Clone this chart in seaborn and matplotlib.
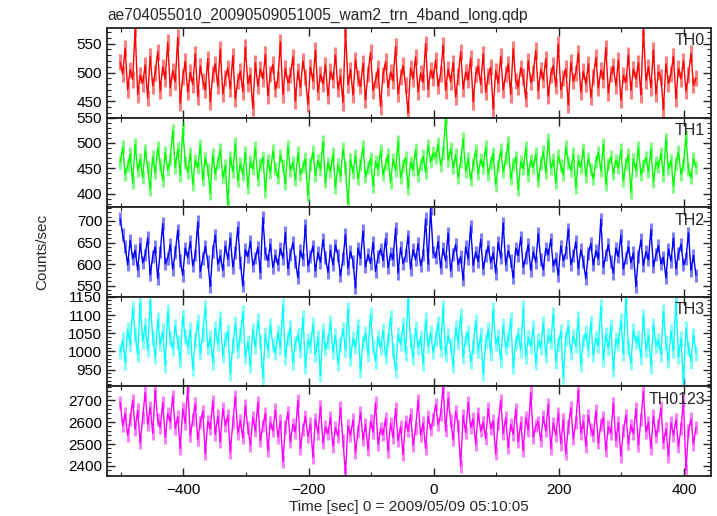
import numpy as np
import pandas as pd
import seaborn as sns
import matplotlib.pyplot as plt
from matplotlib.ticker import MultipleLocator


title = "ae704055010_20090509051005_wam2_trn_4band_long.qdp"
band_names = ["TH0", "TH1", "TH2", "TH3", "TH0123"]
band_colors = ["#ff0000", "#00ff00", "#0000ff", "#00ffff", "#ff00ff"]

# light curve bins: first bin centre and bin width [sec]
t_start = -501
t_bin = 4

th0 = [
    518, 497, 542, 470, 505, 488, 575, 462, 495, 481, 513, 456, 528, 477, 499, 536, 468, 510, 489, 552, 474,
    503, 484, 561, 447, 492, 519, 466, 500, 479, 532, 458, 511, 486, 470, 524, 449, 497, 515, 476, 540, 463,
    491, 508, 472, 529, 455, 486, 502, 467, 544, 481, 496, 438, 517, 476, 506, 489, 531, 460, 498, 514, 471,
    488, 553, 462, 507, 482, 495, 527, 451, 503, 474, 520, 492, 445, 509, 485, 538, 466, 497, 480, 513, 459,
    502, 487, 530, 471, 494, 448, 575, 479, 505, 461, 522, 490, 476, 516, 453, 498, 535, 469, 487, 507, 441,
    496, 519, 474, 501, 486, 545, 463, 492, 512, 478, 430, 508, 489, 527, 467, 499, 483, 550, 471, 504, 490,
    522, 476, 498, 547, 469, 506, 484, 517, 458, 493, 536, 472, 501, 488, 525, 450, 497, 511, 479, 532, 466,
    494, 509, 437, 503, 481, 528, 470, 497, 515, 462, 541, 486, 475, 508, 493, 454, 520, 483, 499, 538, 468,
    505, 487, 524, 459, 496, 512, 476, 549, 470, 490, 507, 444, 518, 485, 499, 533, 466, 502, 480, 515, 457,
    492, 526, 473, 504, 488, 543, 465, 498, 511, 477, 521, 452, 495, 483, 530, 469, 506, 489, 517, 461, 577,
    486, 510, 474, 539, 463, 501, 492, 436, 515, 481, 498, 528, 455, 507, 489, 520, 468, 496, 533, 478, 490,
]
th1 = [
    462, 492, 438, 455, 478, 421, 497, 446, 468, 431, 485, 452, 409, 473, 441, 490, 458, 426, 481, 447, 467,
    525, 452, 488, 436, 529, 461, 442, 479, 418, 466, 451, 495, 427, 470, 448, 401, 476, 439, 462, 486, 432,
    455, 378, 471, 444, 498, 425, 459, 437, 481, 413, 463, 449, 490, 428, 457, 472, 405, 466, 441, 484, 450,
    431, 475, 456, 419, 493, 446, 462, 427, 480, 438, 453, 469, 396, 458, 482, 436, 465, 447, 502, 423, 460,
    444, 478, 413, 457, 435, 488, 452, 380, 467, 441, 474, 429, 458, 492, 433, 451, 470, 415, 463, 448, 485,
    437, 459, 476, 421, 468, 446, 503, 432, 455, 471, 411, 462, 447, 487, 435, 458, 474, 442, 495, 463, 480,
    472, 498, 456, 481, 548, 466, 489, 451, 476, 432, 463, 508, 444, 470, 427, 458, 485, 440, 467, 452, 492,
    438, 461, 479, 417, 455, 486, 443, 469, 500, 429, 457, 472, 408, 463, 449, 490, 436, 466, 452, 478, 425,
    459, 483, 441, 506, 450, 467, 422, 474, 455, 437, 492, 461, 446, 478, 412, 465, 452, 487, 434, 470, 448,
    429, 463, 481, 445, 497, 418, 458, 473, 440, 466, 451, 486, 426, 460, 476, 403, 468, 445, 491, 437, 456,
    471, 443, 488, 424, 462, 453, 479, 436, 507, 449, 466, 415, 460, 482, 438, 458, 512, 447, 431, 469, 452,
]
th2 = [
    705, 668, 640, 598, 655, 612, 632, 586, 647, 603, 621, 661, 575, 618, 640, 567, 628, 694, 601, 612, 645,
    588, 626, 679, 609, 574, 637, 615, 652, 596, 621, 698, 583, 612, 641, 606, 548, 630, 667, 600, 619, 585,
    642, 611, 660, 593, 627, 685, 604, 549, 633, 617, 653, 597, 614, 639, 580, 708, 625, 608, 646, 592, 620,
    599, 636, 613, 673, 589, 622, 650, 607, 568, 631, 611, 690, 596, 618, 642, 584, 627, 604, 656, 615, 581,
    632, 598, 644, 620, 573, 612, 668, 590, 629, 606, 545, 637, 613, 677, 594, 622, 601, 650, 583, 617, 635,
    608, 659, 592, 625, 611, 683, 579, 638, 602, 619, 665, 588, 634, 610, 647, 596, 621, 705, 600, 730, 628,
    615, 652, 591, 636, 607, 672, 584, 623, 645, 599, 618, 563, 640, 612, 688, 597, 628, 606, 657, 589, 620,
    642, 603, 626, 579, 650, 614, 695, 598, 631, 609, 568, 637, 620, 662, 593, 616, 645, 585, 628, 604, 670,
    611, 587, 636, 622, 658, 596, 613, 574, 642, 608, 627, 681, 599, 619, 652, 590, 633, 605, 566, 624, 648,
    598, 631, 612, 704, 593, 621, 645, 606, 579, 637, 617, 667, 589, 614, 640, 603, 626, 548, 618, 656, 597,
    629, 610, 680, 594, 622, 643, 601, 616, 568, 635, 607, 660, 589, 624, 646, 598, 612, 672, 585, 620, 574,
]
th3 = [
    998, 1032, 970, 1061, 1018, 1118, 1046, 990, 1135, 1027, 1072, 1004, 1140, 1039, 985, 1088, 1021, 1057, 962, 1110, 1035,
    1008, 1069, 1026, 975, 1096, 1041, 1013, 1060, 952, 1030, 1082, 996, 1047, 1122, 1010, 1038, 970, 1064, 1021, 1091, 988,
    1033, 1055, 940, 1017, 1076, 1002, 1044, 1108, 985, 1026, 961, 1059, 1012, 1085, 1029, 928, 1047, 1003, 1071, 1018, 996,
    1052, 1011, 1126, 984, 1037, 1065, 970, 1023, 1045, 1001, 1093, 958, 1030, 1016, 1074, 992, 1039, 935, 1058, 1007, 1028,
    1081, 999, 1044, 966, 1019, 1062, 1005, 1116, 981, 1035, 1012, 1070, 947, 1026, 1050, 992, 1102, 1015, 973, 1040, 1009,
    1057, 986, 1031, 1094, 1003, 948, 1046, 1020, 1074, 995, 1148, 1029, 982, 1063, 1011, 1039, 967, 1087, 1016, 1052, 998,
    1035, 1078, 1006, 1121, 990, 1043, 1018, 960, 1066, 1024, 1099, 985, 1037, 1052, 971, 1013, 1083, 1001, 1046, 940, 1027,
    1060, 994, 1115, 1020, 1041, 975, 1072, 1009, 1033, 1088, 957, 1025, 1048, 1003, 1120, 986, 1038, 1014, 1065, 969, 1030,
    1011, 1077, 988, 1044, 1026, 1103, 972, 1019, 1056, 930, 1035, 1068, 997, 1042, 1015, 1090, 963, 1029, 1052, 1004, 1081,
    990, 1037, 1016, 1124, 978, 1047, 1008, 1070, 951, 1033, 1021, 1085, 994, 1150, 1012, 968, 1058, 1026, 1039, 983, 1097,
    1004, 1043, 959, 1072, 1017, 1030, 992, 1110, 1024, 975, 1055, 1001, 1138, 986, 1036, 915, 1064, 1010, 972, 1045, 995,
]
th0123 = [
    2690, 2585, 2640, 2540, 2612, 2700, 2568, 2655, 2505, 2620, 2735, 2590, 2668, 2548, 2745, 2610, 2575, 2690, 2530, 2638, 2600,
    2718, 2572, 2625, 2480, 2660, 2595, 2762, 2540, 2612, 2683, 2520, 2598, 2650, 2455, 2603, 2570, 2696, 2545, 2628, 2510, 2662,
    2585, 2630, 2462, 2598, 2715, 2550, 2607, 2528, 2675, 2575, 2495, 2622, 2560, 2690, 2515, 2583, 2640, 2470, 2598, 2560, 2655,
    2532, 2605, 2420, 2578, 2645, 2510, 2590, 2555, 2698, 2480, 2568, 2625, 2535, 2592, 2440, 2612, 2550, 2670, 2505, 2578, 2548,
    2620, 2490, 2575, 2535, 2665, 2515, 2363, 2582, 2540, 2610, 2462, 2558, 2645, 2520, 2590, 2475, 2605, 2555, 2688, 2500, 2570,
    2542, 2618, 2468, 2595, 2530, 2660, 2515, 2580, 2452, 2603, 2560, 2635, 2495, 2572, 2700, 2540, 2596, 2480, 2625, 2565, 2612,
    2680, 2590, 2635, 2762, 2560, 2710, 2608, 2520, 2650, 2585, 2398, 2630, 2552, 2690, 2575, 2615, 2498, 2640, 2560, 2600, 2525,
    2662, 2570, 2605, 2455, 2595, 2700, 2548, 2620, 2485, 2590, 2545, 2658, 2510, 2598, 2470, 2620, 2562, 2735, 2530, 2583, 2600,
    2515, 2625, 2560, 2680, 2478, 2595, 2540, 2640, 2500, 2610, 2455, 2578, 2665, 2525, 2597, 2745, 2550, 2605, 2490, 2630, 2568,
    2540, 2652, 2505, 2590, 2620, 2470, 2578, 2550, 2685, 2515, 2598, 2445, 2560, 2632, 2502, 2585, 2548, 2660, 2495, 2610, 2740,
    2555, 2600, 2480, 2628, 2535, 2585, 2665, 2505, 2570, 2445, 2598, 2540, 2610, 2490, 2572, 2698, 2380, 2560, 2615, 2500, 2575,
]
# typical 1-sigma error bar half-length per band [counts/sec]
band_errors = [14, 13, 15, 20, 30]

bands = [th0, th1, th2, th3, th0123]
ylims = [(422, 577), (373, 550), (524, 732), (904, 1150), (2354, 2763)]
minor_steps = [10, 10, 10, 10, 20]
major_steps = [50, 50, 50, 50, 100]

sns.set_style("ticks")
plt.rcParams["font.family"] = ["Liberation Sans", "DejaVu Sans"]

fig, axes = plt.subplots(5, 1, sharex=True, figsize=(7.17, 5.16), dpi=100,
                         gridspec_kw=dict(hspace=0))
fig.subplots_adjust(left=107 / 717, right=711 / 717, top=1 - 28 / 516, bottom=1 - 476 / 516)

for ax, vals, err, name, col, ylim, mn, mj in zip(axes, bands, band_errors, band_names,
                                                  band_colors, ylims, minor_steps, major_steps):
    df = pd.DataFrame({"time": t_start + t_bin * np.arange(len(vals)), "rate": vals})
    # pale vertical error bars, then the curve itself
    ax.errorbar(df["time"], df["rate"], yerr=err, fmt="none", ecolor=col,
                elinewidth=2.2, alpha=0.5, capsize=0)
    sns.lineplot(data=df, x="time", y="rate", ax=ax, color=col, lw=1.0,
                 estimator=None, sort=False)
    ax.set_ylim(*ylim)
    ax.yaxis.set_major_locator(MultipleLocator(mj))
    ax.yaxis.set_minor_locator(MultipleLocator(mn))
    ax.xaxis.set_major_locator(MultipleLocator(200))
    ax.xaxis.set_minor_locator(MultipleLocator(100))
    ax.tick_params(which="both", direction="in", top=True, right=True, labelsize=11,
                   colors="#222222", labelcolor="black")
    ax.tick_params(axis="y", pad=3.5)
    ax.tick_params(axis="x", pad=5)
    ax.tick_params(which="major", length=6, width=1)
    ax.tick_params(which="minor", length=3, width=0.8)
    for sp in ax.spines.values():
        sp.set_linewidth(1.3)
        sp.set_color("#222222")
    ax.set_ylabel("")
    ax.set_xlabel("")
    ax.text(0.99, 0.94, name, transform=ax.transAxes, ha="right", va="top", fontsize=11.5)

axes[-1].set_xlim(-522, 443)
axes[-1].set_xlabel("Time [sec] 0 = 2009/05/09 05:10:05", fontsize=11, labelpad=2)
fig.text(42 / 717, 1 - 252 / 516, "Counts/sec", rotation=90, ha="center", va="center", fontsize=11)
fig.text(107 / 717, 1 - 15 / 516, title, ha="left", va="center", fontsize=11.2)

fig.savefig("out.png", dpi=100)
plt.close()
